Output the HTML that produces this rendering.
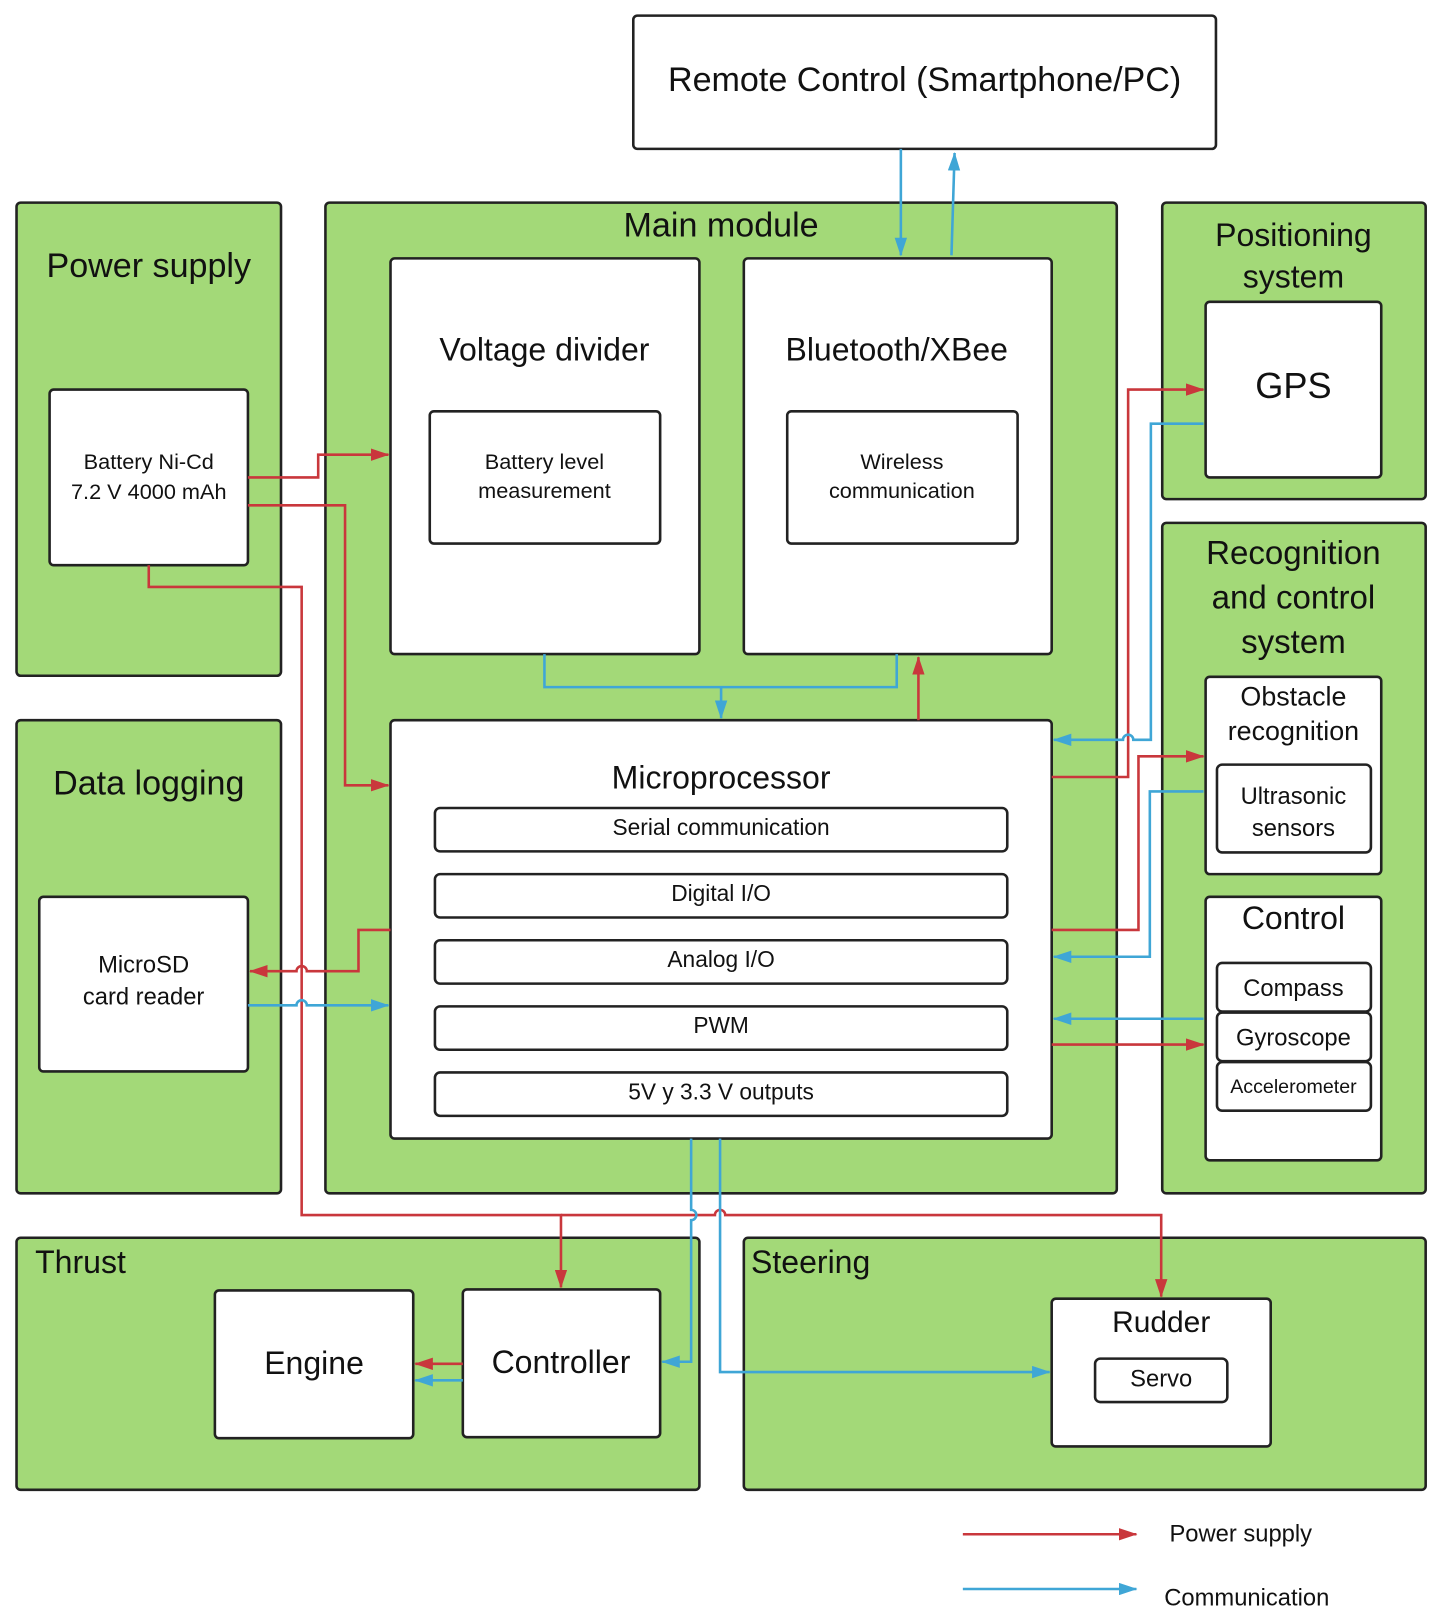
<!DOCTYPE html>
<html><head><meta charset="utf-8"><style>
html,body{margin:0;padding:0;background:#fff}
svg{display:block}
text{font-family:"Liberation Sans",sans-serif;fill:#111;text-anchor:middle}
.g{fill:#a3d978;stroke:#222;stroke-width:2.5}
.w{fill:#fff;stroke:#222;stroke-width:2.5}
.r{fill:none;stroke:#c9373c;stroke-width:2.5}
.b{fill:none;stroke:#3fa6d6;stroke-width:2.5}
</style></head><body>
<svg width="1436" height="1616" viewBox="0 0 1390 1564" xmlns="http://www.w3.org/2000/svg">
<defs>
<marker id="ar" viewBox="0 0 18 12" refX="17" refY="6" markerWidth="18" markerHeight="12" orient="auto" markerUnits="userSpaceOnUse"><path d="M0,0 L18,6 L0,12z" fill="#c9373c"/></marker>
<marker id="ab" viewBox="0 0 18 12" refX="17" refY="6" markerWidth="18" markerHeight="12" orient="auto" markerUnits="userSpaceOnUse"><path d="M0,0 L18,6 L0,12z" fill="#3fa6d6"/></marker>
</defs>
<rect class="w" x="613" y="15" width="564" height="129" rx="4"/>
<text x="895" y="88" font-size="33">Remote Control (Smartphone/PC)</text>

<rect class="g" x="16" y="196" width="256" height="458" rx="4"/>
<text x="144" y="268" font-size="33">Power supply</text>
<rect class="w" x="48" y="377" width="192" height="170" rx="4"/>
<text x="144" y="454" font-size="21">Battery Ni-Cd</text>
<text x="144" y="483" font-size="21">7.2 V 4000 mAh</text>

<rect class="g" x="315" y="196" width="766" height="959" rx="4"/>
<text x="698" y="229" font-size="33">Main module</text>
<rect class="w" x="378" y="250" width="299" height="383" rx="4"/>
<text x="527" y="349" font-size="31">Voltage divider</text>
<rect class="w" x="416" y="398" width="223" height="128" rx="4"/>
<text x="527" y="454" font-size="21">Battery level</text>
<text x="527" y="482" font-size="21">measurement</text>
<rect class="w" x="720" y="250" width="298" height="383" rx="4"/>
<text x="868" y="349" font-size="31">Bluetooth/XBee</text>
<rect class="w" x="762" y="398" width="223" height="128" rx="4"/>
<text x="873" y="454" font-size="21">Wireless</text>
<text x="873" y="482" font-size="21">communication</text>

<rect class="w" x="378" y="697" width="640" height="405" rx="4"/>
<text x="698" y="763" font-size="31">Microprocessor</text>
<rect class="w" x="421" y="782" width="554" height="42" rx="5"/><text x="698" y="808" font-size="22">Serial communication</text>
<rect class="w" x="421" y="846" width="554" height="42" rx="5"/><text x="698" y="872" font-size="22">Digital I/O</text>
<rect class="w" x="421" y="910" width="554" height="42" rx="5"/><text x="698" y="936" font-size="22">Analog I/O</text>
<rect class="w" x="421" y="974" width="554" height="42" rx="5"/><text x="698" y="1000" font-size="22">PWM</text>
<rect class="w" x="421" y="1038" width="554" height="42" rx="5"/><text x="698" y="1064" font-size="22">5V y 3.3 V outputs</text>

<rect class="g" x="1125" y="196" width="255" height="287" rx="4"/>
<text x="1252" y="238" font-size="31">Positioning</text>
<text x="1252" y="278" font-size="31">system</text>
<rect class="w" x="1167" y="292" width="170" height="170" rx="4"/>
<text x="1252" y="385" font-size="35">GPS</text>

<rect class="g" x="1125" y="506" width="255" height="649" rx="4"/>
<text x="1252" y="546" font-size="32">Recognition</text>
<text x="1252" y="589" font-size="32">and control</text>
<text x="1252" y="632" font-size="32">system</text>
<rect class="w" x="1167" y="655" width="170" height="191" rx="4"/>
<text x="1252" y="683" font-size="26">Obstacle</text>
<text x="1252" y="716" font-size="26">recognition</text>
<rect class="w" x="1178" y="740" width="149" height="85" rx="5"/>
<text x="1252" y="778" font-size="23">Ultrasonic</text>
<text x="1252" y="809" font-size="23">sensors</text>
<rect class="w" x="1167" y="868" width="170" height="255" rx="4"/>
<text x="1252" y="899" font-size="31">Control</text>
<rect class="w" x="1178" y="932" width="149" height="47" rx="5"/><text x="1252" y="964" font-size="23">Compass</text>
<rect class="w" x="1178" y="980" width="149" height="47" rx="5"/><text x="1252" y="1012" font-size="23">Gyroscope</text>
<rect class="w" x="1178" y="1028" width="149" height="47" rx="5"/><text x="1252" y="1058" font-size="19">Accelerometer</text>

<rect class="g" x="16" y="697" width="256" height="458" rx="4"/>
<text x="144" y="769" font-size="33">Data logging</text>
<rect class="w" x="38" y="868" width="202" height="169" rx="4"/>
<text x="139" y="941" font-size="23">MicroSD</text>
<text x="139" y="972" font-size="23">card reader</text>

<rect class="g" x="16" y="1198" width="661" height="244" rx="4"/>
<text x="34" y="1232" font-size="31" style="text-anchor:start">Thrust</text>
<rect class="w" x="208" y="1249" width="192" height="143" rx="4"/>
<text x="304" y="1330" font-size="31">Engine</text>
<rect class="w" x="448" y="1248" width="191" height="143" rx="4"/>
<text x="543" y="1329" font-size="31">Controller</text>

<rect class="g" x="720" y="1198" width="660" height="244" rx="4"/>
<text x="727" y="1232" font-size="31" style="text-anchor:start">Steering</text>
<rect class="w" x="1018" y="1257" width="212" height="143" rx="4"/>
<text x="1124" y="1289" font-size="29">Rudder</text>
<rect class="w" x="1060" y="1315" width="128" height="42" rx="5"/>
<text x="1124" y="1342" font-size="23">Servo</text>

<path class="b" d="M872,144 V247" marker-end="url(#ab)"/>
<path class="b" d="M921,247 L924,148" marker-end="url(#ab)"/>
<path class="r" d="M240,462 H308 V440 H376" marker-end="url(#ar)"/>
<path class="r" d="M240,489 H334 V760 H376" marker-end="url(#ar)"/>
<path class="r" d="M144,547 V568 H292 V1176 H543 V1246" marker-end="url(#ar)"/>
<path class="r" d="M543,1176 H692 a5,5 0 0 1 10,0 H1124 V1255" marker-end="url(#ar)"/>
<path class="b" d="M527,633 V665 H868 V633"/>
<path class="b" d="M698,665 V695" marker-end="url(#ab)"/>
<path class="r" d="M889,697 V636" marker-end="url(#ar)"/>
<path class="r" d="M378,900 H347 V940 H297 a5,5 0 0 0 -10,0 H242" marker-end="url(#ar)"/>
<path class="b" d="M240,973 H287 a5,5 0 0 1 10,0 H376" marker-end="url(#ab)"/>
<path class="r" d="M1018,752 H1092 V377 H1165" marker-end="url(#ar)"/>
<path class="b" d="M1165,410 H1114 V716 H1097 a5,5 0 0 0 -10,0 H1020" marker-end="url(#ab)"/>
<path class="r" d="M1018,900 H1102 V732 H1165" marker-end="url(#ar)"/>
<path class="b" d="M1165,766 H1113 V926 H1020" marker-end="url(#ab)"/>
<path class="b" d="M1165,986 H1020" marker-end="url(#ab)"/>
<path class="r" d="M1018,1011 H1165" marker-end="url(#ar)"/>
<path class="b" d="M669,1102 V1171 a5,5 0 0 1 0,10 V1318 H641" marker-end="url(#ab)"/>
<path class="b" d="M697,1102 V1328 H1016" marker-end="url(#ab)"/>
<path class="r" d="M448,1320 H402" marker-end="url(#ar)"/>
<path class="b" d="M448,1336 H402" marker-end="url(#ab)"/>

<path class="r" d="M932,1485 H1100" marker-end="url(#ar)"/>
<text x="1132" y="1492" font-size="23" style="text-anchor:start">Power supply</text>
<path class="b" d="M932,1538 H1100" marker-end="url(#ab)"/>
<text x="1127" y="1554" font-size="23" style="text-anchor:start">Communication</text>
</svg>
</body></html>
